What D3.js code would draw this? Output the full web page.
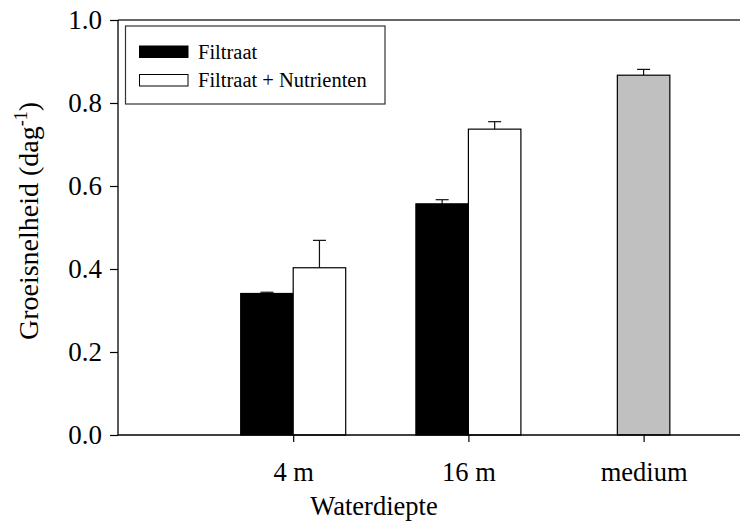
<!DOCTYPE html>
<html>
<head>
<meta charset="utf-8">
<script src="https://cdn.jsdelivr.net/npm/d3@7"></script>
<style>
  html, body { margin: 0; padding: 0; background: #fff; }
  svg { display: block; }
  text { font-family: "Liberation Serif", "Times New Roman", serif; fill: #000; }
</style>
</head>
<body>
<svg id="chart" width="740" height="523"></svg>
<script>
// ---- data ----
const categories = ["4 m", "16 m", "medium"];
const filtraat = [0.341, 0.557, null];
const filtraatErr = [0.003, 0.010, null];
const nutrienten = [0.403, 0.737, null];
const nutrientenErr = [0.066, 0.018, null];
const mediumVals = [null, null, 0.867];
const mediumErr = [null, null, 0.014];
const yTicks = [0.0, 0.2, 0.4, 0.6, 0.8, 1.0];
const legendLabels = ["Filtraat", "Filtraat + Nutrienten"];

// ---- layout ----
const serif = '"Liberation Serif", "Times New Roman", serif';
const svg = d3.select("#chart");
const plotLeft = 118, plotTop = 20, plotBottom = 435, plotRight = 740;
const step = 175.2;

const x = d3.scalePoint()
  .domain(["_start", ...categories, "_end"])
  .range([plotLeft, plotLeft + step * 4]);
const y = d3.scaleLinear().domain([0, 1]).range([plotBottom, plotTop]);
const barW = 52.5;

// frame top line
svg.append("line")
  .attr("x1", plotLeft).attr("x2", plotRight)
  .attr("y1", y(1)).attr("y2", y(1))
  .attr("stroke", "#333").attr("stroke-width", 1.5);

// bars
const bars = [];
categories.forEach((c, i) => {
  if (filtraat[i] != null) bars.push({x0: x(c) - barW, v: filtraat[i], e: filtraatErr[i], fill: "#000"});
  if (nutrienten[i] != null) bars.push({x0: x(c), v: nutrienten[i], e: nutrientenErr[i], fill: "#fff"});
  if (mediumVals[i] != null) bars.push({x0: x(c) - barW / 2, v: mediumVals[i], e: mediumErr[i], fill: "#c0c0c0"});
});

const g = svg.append("g");
bars.forEach(b => {
  const cx = b.x0 + barW / 2;
  g.append("line").attr("x1", cx).attr("x2", cx)
    .attr("y1", y(b.v)).attr("y2", y(b.v + b.e))
    .attr("stroke", "#111").attr("stroke-width", 1.2);
  g.append("line").attr("x1", cx - 6.5).attr("x2", cx + 6.5)
    .attr("y1", y(b.v + b.e)).attr("y2", y(b.v + b.e))
    .attr("stroke", "#111").attr("stroke-width", 1.2);
});
g.selectAll("rect.bar").data(bars).enter().append("rect")
  .attr("class", "bar")
  .attr("x", d => d.x0)
  .attr("y", d => y(d.v))
  .attr("width", barW)
  .attr("height", d => y(0) - y(d.v))
  .attr("fill", d => d.fill)
  .attr("stroke", "#000")
  .attr("stroke-width", 1.2);

// y axis
const yAxis = d3.axisLeft(y).tickValues(yTicks).tickFormat(d3.format(".1f"))
  .tickSize(8).tickPadding(8);
const ya = svg.append("g").attr("transform", `translate(${plotLeft},0)`)
  .call(yAxis).attr("font-family", serif);
ya.select(".domain").attr("stroke", "#000").attr("stroke-width", 1.3)
  .attr("d", `M0,${y(1)}V${y(0)}`);
ya.selectAll(".tick line").attr("stroke", "#000").attr("stroke-width", 1.2);
ya.selectAll(".tick text").style("font-size", "27px").style("font-family", serif);

// x axis
const xAxis = d3.axisBottom(x).tickValues(categories).tickSize(7).tickPadding(20);
const xa = svg.append("g").attr("transform", `translate(0,${plotBottom})`)
  .call(xAxis).attr("font-family", serif);
xa.select(".domain").attr("stroke", "#000").attr("stroke-width", 1.3)
  .attr("d", `M${plotLeft},0H${plotRight}`);
xa.selectAll(".tick line").attr("stroke", "#000").attr("stroke-width", 1.2);
xa.selectAll(".tick text").style("font-size", "26.5px").style("font-family", serif);

// axis titles
svg.append("text")
  .attr("x", 374).attr("y", 515)
  .attr("text-anchor", "middle")
  .style("font-size", "26.5px")
  .text("Waterdiepte");

const yt = svg.append("text")
  .attr("transform", "translate(38,221) rotate(-90)")
  .attr("text-anchor", "middle")
  .style("font-size", "28px");
yt.append("tspan").text("Groeisnelheid (dag");
yt.append("tspan").attr("dy", -11).style("font-size", "18px").text("-1");
yt.append("tspan").attr("dy", 11).text(")");

// legend
const lg = svg.append("g");
lg.append("rect").attr("x", 125.5).attr("y", 26).attr("width", 259.5).attr("height", 78)
  .attr("fill", "#fff").attr("stroke", "#333").attr("stroke-width", 1.2);
const legendFills = ["#000", "#fff"];
legendLabels.forEach((lab, i) => {
  const yy = 46 + i * 28.5;
  lg.append("rect").attr("x", 139.5).attr("y", yy).attr("width", 48.5).attr("height", 11.5)
    .attr("fill", legendFills[i]).attr("stroke", "#000").attr("stroke-width", 1);
  lg.append("text").attr("x", 198).attr("y", yy + 12.5)
    .style("font-size", "20.5px").text(lab);
});
</script>
</body>
</html>
